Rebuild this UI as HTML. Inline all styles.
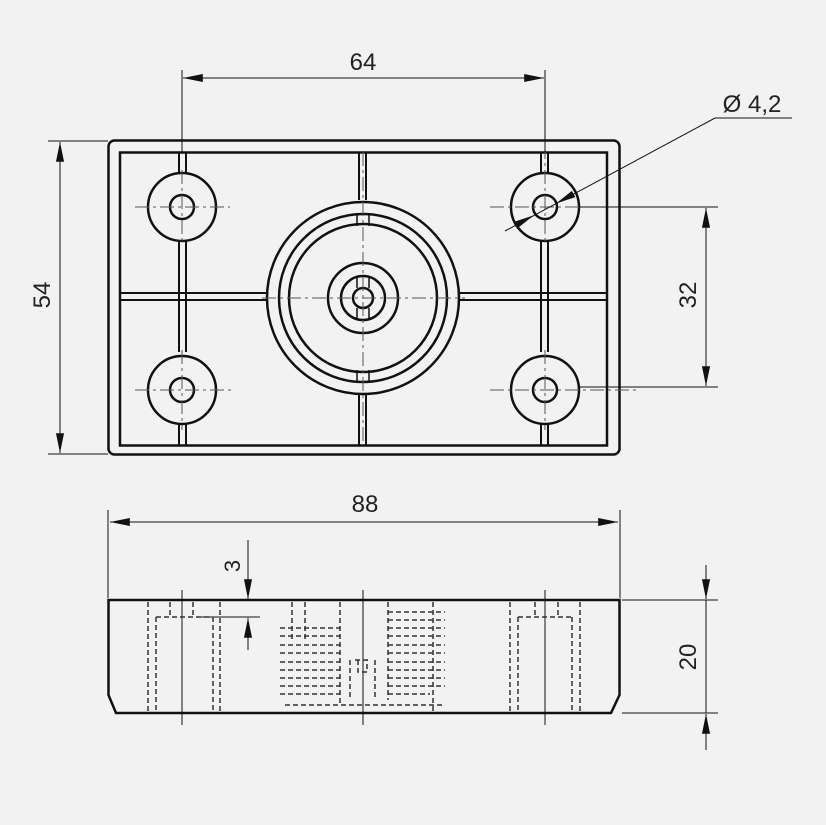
<!DOCTYPE html>
<html><head><style>
html,body{margin:0;padding:0;background:#f2f2f2;}
svg{display:block}
text{font-family:"Liberation Sans",sans-serif;fill:#222}
</style></head><body>
<svg width="826" height="825" viewBox="0 0 826 825" xmlns="http://www.w3.org/2000/svg">
<defs>
<marker id="a" viewBox="0 0 22 10" refX="22" refY="5" markerWidth="22" markerHeight="9" markerUnits="userSpaceOnUse" orient="auto-start-reverse"><path d="M0,0.5 L22,5 L0,9.5 z" fill="#111"/></marker>
</defs>
<rect width="826" height="825" fill="#f2f2f2"/>
<g stroke="#111" fill="none">
<rect x="108.5" y="140.5" width="511" height="314" rx="6" stroke-width="2.5"/>
<rect x="120" y="152.5" width="487" height="293" stroke-width="2.5"/>
<g stroke-width="2">
<line x1="179" y1="152" x2="179" y2="174"/><line x1="186" y1="152" x2="186" y2="174"/>
<line x1="179" y1="241" x2="179" y2="352"/><line x1="186" y1="241" x2="186" y2="352"/>
<line x1="179" y1="420" x2="179" y2="445"/><line x1="186" y1="420" x2="186" y2="445"/>
<line x1="541" y1="152" x2="541" y2="174"/><line x1="548" y1="152" x2="548" y2="174"/>
<line x1="541" y1="241" x2="541" y2="352"/><line x1="548" y1="241" x2="548" y2="352"/>
<line x1="541" y1="420" x2="541" y2="445"/><line x1="548" y1="420" x2="548" y2="445"/>
<line x1="359" y1="152" x2="359" y2="200"/><line x1="366" y1="152" x2="366" y2="200"/>
<line x1="359" y1="392" x2="359" y2="445"/><line x1="366" y1="392" x2="366" y2="445"/>
<line x1="120" y1="293" x2="266" y2="293"/><line x1="120" y1="300" x2="266" y2="300"/>
<line x1="459" y1="293" x2="607" y2="293"/><line x1="459" y1="300" x2="607" y2="300"/>
</g>
<g stroke-width="2.5" fill="#f2f2f2">
<circle cx="182" cy="207" r="34"/><circle cx="182" cy="207" r="12"/>
<circle cx="545" cy="207" r="34"/><circle cx="545" cy="207" r="12"/>
<circle cx="182" cy="390" r="34"/><circle cx="182" cy="390" r="12"/>
<circle cx="545" cy="390" r="34"/><circle cx="545" cy="390" r="12"/>
</g>
<g stroke-width="2.5">
<circle cx="363" cy="298" r="96" fill="#f2f2f2"/>
<circle cx="363" cy="298" r="84"/>
<circle cx="363" cy="298" r="74"/>
<circle cx="363" cy="298" r="35"/>
<circle cx="363" cy="298" r="22"/>
<circle cx="363" cy="298" r="10"/>
</g>
<g stroke-width="1.5">
<line x1="357" y1="215" x2="357" y2="226"/><line x1="369" y1="215" x2="369" y2="226"/>
<line x1="357" y1="370" x2="357" y2="381"/><line x1="369" y1="370" x2="369" y2="381"/>
<line x1="357" y1="276" x2="357" y2="288"/><line x1="369" y1="276" x2="369" y2="288"/>
<line x1="357" y1="308" x2="357" y2="320"/><line x1="369" y1="308" x2="369" y2="320"/>
</g>
<g stroke-width="1" stroke-dasharray="14,4,3,4" stroke="#555">
<line x1="135" y1="207" x2="230" y2="207"/><line x1="182" y1="170" x2="182" y2="245"/>
<line x1="135" y1="390" x2="235" y2="390"/><line x1="182" y1="350" x2="182" y2="430"/>
<line x1="490" y1="207" x2="640" y2="207"/><line x1="545" y1="70" x2="545" y2="245"/>
<line x1="490" y1="390" x2="640" y2="390"/><line x1="545" y1="350" x2="545" y2="430"/>
<line x1="262" y1="298" x2="465" y2="298"/><line x1="363" y1="152" x2="363" y2="445"/>
</g>
<g stroke-width="1">
<line x1="182" y1="70" x2="182" y2="152"/>
<line x1="545" y1="70" x2="545" y2="152"/>
<line x1="183" y1="78" x2="544" y2="78" marker-start="url(#a)" marker-end="url(#a)"/>
<line x1="48" y1="141" x2="108" y2="141"/><line x1="48" y1="454" x2="108" y2="454"/>
<line x1="60" y1="142" x2="60" y2="453" marker-start="url(#a)" marker-end="url(#a)"/>
<line x1="580" y1="207" x2="718" y2="207"/><line x1="580" y1="387" x2="718" y2="387"/>
<line x1="706" y1="208" x2="706" y2="386" marker-start="url(#a)" marker-end="url(#a)"/>
<line x1="505" y1="231" x2="715" y2="118"/><line x1="715" y1="118" x2="792" y2="118"/>
</g>
<path d="M534,215.2 L518.1,227.8 L514.7,221.6 z M556,203.5 L575.3,197.1 L571.9,190.9 z" fill="#111" stroke="none"/>
<path d="M108.5,600 L619.5,600 L619.5,695 L611,713 L116,713 L108.5,695 Z" stroke-width="2.5"/>
<g stroke-width="1">
<line x1="108" y1="510" x2="108" y2="598"/><line x1="620" y1="510" x2="620" y2="598"/>
<line x1="110" y1="522" x2="618" y2="522" marker-start="url(#a)" marker-end="url(#a)"/>
<line x1="248" y1="540" x2="248" y2="599" marker-end="url(#a)"/>
<line x1="248" y1="650" x2="248" y2="618" marker-end="url(#a)"/>
<line x1="200" y1="617" x2="260" y2="617"/>
<line x1="622" y1="600" x2="718" y2="600"/><line x1="622" y1="713" x2="718" y2="713"/>
<line x1="706" y1="565" x2="706" y2="599" marker-end="url(#a)"/>
<line x1="706" y1="750" x2="706" y2="714" marker-end="url(#a)"/>
<line x1="706" y1="600" x2="706" y2="713"/>
<line x1="363" y1="590" x2="363" y2="725"/>
<line x1="182" y1="590" x2="182" y2="725"/><line x1="545" y1="590" x2="545" y2="725"/>
</g>
<g stroke-width="1.5" stroke-dasharray="5,3" stroke="#333">
<path d="M148,602 V712 M156,617 V712 M156,617 H210 M213,617 V712 M220,602 V712"/>
<path d="M170,602 V617 M193,602 V617"/>
<path d="M510,602 V712 M518,617 V712 M518,617 H572 M572,617 V712 M580,602 V712"/>
<path d="M535,602 V617 M558,602 V617"/>
<path d="M292,602 V640 M305,602 V640 M340,602 V705 M285,705 H445"/>
<path d="M280,628 H340 M280,645 H340 M280,662 H340 M280,678 H340 M280,694 H340 M280,636 H340 M280,653 H340 M280,670 H340 M280,686 H340"/>
<path d="M388,602 V700 M388,612 H445 M388,628 H445 M388,645 H445 M388,662 H445 M388,678 H445 M388,694 H430 M433,602 V712 M388,620 H445 M388,636 H445 M388,653 H445 M388,670 H445 M388,686 H445"/>
<path d="M350,660 V700 M375,660 V700 M355,660 H370 M358,660 V672 H367 V660"/>
</g>
</g>
<text x="363" y="70" font-size="24" text-anchor="middle">64</text>
<text x="365" y="512" font-size="24" text-anchor="middle">88</text>
<text x="752" y="112" font-size="24" text-anchor="middle">Ø 4,2</text>
<text transform="translate(50,295) rotate(-90)" font-size="24" text-anchor="middle">54</text>
<text transform="translate(696,295) rotate(-90)" font-size="24" text-anchor="middle">32</text>
<text transform="translate(696,657) rotate(-90)" font-size="24" text-anchor="middle">20</text>
<text transform="translate(240,566) rotate(-90)" font-size="22" text-anchor="middle">3</text>
</svg>
</body></html>
